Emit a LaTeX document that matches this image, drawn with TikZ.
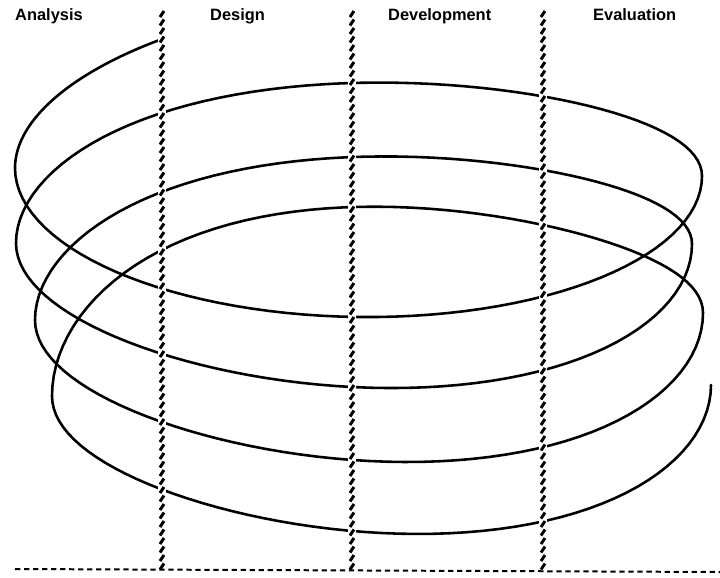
\documentclass[tikz,border=0pt]{standalone}
\usepackage{fontspec}
\setmainfont{Liberation Sans}

\begin{document}
\begin{tikzpicture}[x=0.03cm,y=-0.03cm,
 spiral/.style={line width=2.2pt,line join=round,line cap=round},
 band/.style={white,line width=6pt},
 hatch/.style={line width=2.5pt},
 phase/.style={font=\fontsize{14}{16}\selectfont\bfseries,inner sep=0pt,anchor=base west}]
 \useasboundingbox (0,0) rectangle (720,577);
 \foreach \xc/\a/\sg/\ya/\yb/\d/\e/\sa/\sb in {
   358/343/1/113.9/168/-143/0/124.85/180,
   358.5/343.5/-1/168/176/145/0/0/180,
   359/343/1/176/243/-126.7/13/0/180,
   354/338/-1/243/244/143.6/-8/0/180,
   363.5/328.5/1/244/320/-125.3/15/0/180,
   369/334/-1/320/313/144.5/-10.3/0/180,
   377.5/325.5/1/313/396/-147.8/21.5/0/180,
   381.5/329.5/-1/396/385/142.5/-11/0/180}
  \draw[spiral] plot[domain=\sa:\sb,samples=61,variable=\t]
   ({\xc+(\sg)*\a*cos(\t)},{\ya+(\yb-\ya)*(1-cos(\t))/2+(\d)*sin(\t)+(\e)*sin(2*\t)});
 \foreach \x in {162,352,543}{
  \draw[band] (\x,10)--(\x,569);
  \foreach \y in {14,22.5,...,567}{\draw[hatch] (\x-2,\y+3)--(\x+2,\y-3);}
 }
 \draw[line width=1.7pt,dash pattern=on 4.5pt off 3.2pt] (15,569)--(720,572);
 \node[phase] (analysis) at (15,20) {Analysis};
 \node[phase] (design) at (210,20) {Design};
 \node[phase] (development) at (388,20) {Development};
 \node[phase] (evaluation) at (593,20) {Evaluation};
\end{tikzpicture}
\end{document}
